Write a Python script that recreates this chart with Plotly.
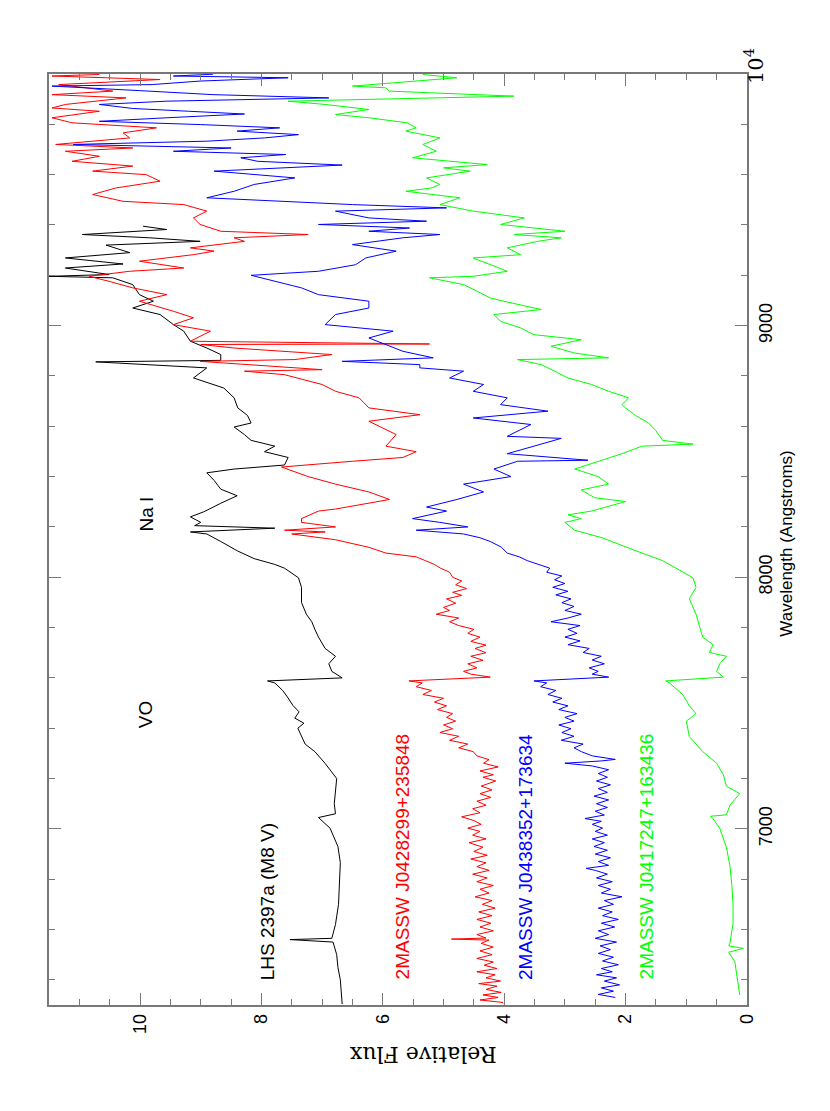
import plotly.graph_objects as go

# (wavelength in Angstrom, relative flux)
lhs_2397a = [
    (6304, 6.67), (6350, 6.68), (6400, 6.70), (6450, 6.74), (6500, 6.76), (6550, 6.82),
    (6560, 7.53), (6565, 6.84), (6620, 6.78), (6700, 6.73), (6780, 6.72), (6866, 6.70),
    (6930, 6.74), (7003, 6.87), (7045, 7.06), (7060, 6.78), (7100, 6.80), (7150, 6.78),
    (7200, 6.76), (7260, 6.95), (7307, 7.12), (7337, 7.28), (7367, 7.34), (7400, 7.40),
    (7420, 7.30), (7440, 7.45), (7465, 7.38), (7490, 7.48), (7520, 7.56), (7550, 7.65),
    (7580, 7.78), (7588, 7.90), (7600, 6.67), (7626, 6.84), (7656, 6.89), (7686, 6.78),
    (7717, 6.95), (7762, 7.06), (7793, 7.12), (7823, 7.17), (7853, 7.26), (7900, 7.34),
    (7960, 7.34), (7998, 7.39), (8036, 7.62), (8051, 7.78), (8074, 8.12), (8104, 8.39),
    (8142, 8.67), (8172, 8.90), (8180, 9.17), (8195, 7.78), (8205, 9.10), (8218, 9.00),
    (8240, 9.17), (8260, 8.95), (8294, 8.67), (8324, 8.40), (8350, 8.67), (8385, 8.78),
    (8415, 8.90), (8430, 8.45), (8446, 7.62), (8476, 7.56), (8499, 7.95), (8521, 7.78),
    (8544, 8.17), (8567, 8.28), (8597, 8.45), (8613, 8.17), (8643, 8.23), (8673, 8.39),
    (8713, 8.45), (8752, 8.62), (8792, 9.12), (8832, 8.90), (8856, 10.73), (8862, 8.67),
    (8885, 8.67), (8911, 8.90), (8938, 9.17), (8978, 9.28), (9004, 9.45), (9044, 9.67),
    (9070, 10.12), (9097, 9.78), (9123, 10.01), (9163, 10.12), (9190, 10.45), (9196, 11.50),
    (9203, 10.51), (9229, 11.23), (9245, 10.28), (9269, 11.23), (9290, 10.17), (9320, 10.56),
    (9335, 9.01), (9349, 9.84), (9362, 10.95), (9382, 9.56), (9395, 9.95),
]

j0428 = [
    (6310, 4.02), (6320, 4.40), (6330, 4.10), (6340, 4.35), (6350, 4.05), (6362, 4.30),
    (6375, 4.12), (6385, 4.42), (6395, 4.06), (6408, 4.30), (6420, 4.15), (6432, 4.45),
    (6445, 4.12), (6458, 4.33), (6471, 4.18), (6485, 4.45), (6500, 4.20), (6515, 4.40),
    (6530, 4.18), (6545, 4.38), (6558, 4.25), (6562, 4.87), (6566, 4.30), (6580, 4.45),
    (6595, 4.18), (6610, 4.40), (6625, 4.22), (6640, 4.45), (6655, 4.20), (6670, 4.42),
    (6685, 4.15), (6700, 4.36), (6715, 4.20), (6730, 4.48), (6745, 4.25), (6760, 4.40),
    (6775, 4.18), (6790, 4.45), (6805, 4.28), (6820, 4.52), (6835, 4.25), (6850, 4.45),
    (6865, 4.30), (6880, 4.55), (6895, 4.28), (6910, 4.50), (6927, 4.35), (6945, 4.58),
    (6960, 4.30), (6975, 4.52), (6990, 4.40), (7003, 4.60), (7018, 4.38), (7033, 4.50),
    (7048, 4.70), (7064, 4.40), (7080, 4.52), (7094, 4.30), (7110, 4.45), (7125, 4.22),
    (7140, 4.40), (7155, 4.20), (7170, 4.38), (7190, 4.14), (7205, 4.35), (7215, 4.18),
    (7230, 4.40), (7246, 4.10), (7261, 4.34), (7275, 4.25), (7290, 4.45), (7307, 4.51),
    (7322, 4.75), (7337, 4.60), (7352, 4.90), (7368, 4.75), (7383, 5.06), (7398, 4.85),
    (7413, 5.00), (7428, 4.80), (7443, 4.95), (7458, 4.85), (7474, 5.10), (7489, 4.95),
    (7504, 5.15), (7519, 5.00), (7534, 5.34), (7550, 5.20), (7565, 5.45), (7580, 5.35),
    (7588, 5.57), (7603, 4.23), (7615, 4.55), (7626, 4.67), (7640, 4.45), (7656, 4.60),
    (7670, 4.35), (7686, 4.55), (7700, 4.30), (7717, 4.48), (7730, 4.30), (7745, 4.55),
    (7762, 4.40), (7777, 4.60), (7793, 4.50), (7808, 4.75), (7823, 4.90), (7838, 4.75),
    (7853, 5.12), (7868, 4.90), (7880, 5.00), (7897, 4.80), (7914, 4.95), (7928, 4.70),
    (7940, 4.85), (7955, 4.62), (7970, 4.80), (7985, 4.70), (8000, 4.85), (8020, 4.90),
    (8036, 5.05), (8051, 5.15), (8066, 5.30), (8081, 5.45), (8096, 5.95), (8119, 6.23),
    (8149, 6.78), (8172, 7.50), (8180, 6.95), (8187, 7.62), (8200, 6.78), (8218, 7.34),
    (8233, 7.34), (8263, 7.06), (8271, 6.78), (8309, 5.89), (8339, 6.23), (8370, 6.78),
    (8400, 7.23), (8438, 7.67), (8461, 6.50), (8476, 5.67), (8499, 5.45), (8521, 5.95),
    (8567, 5.78), (8620, 6.23), (8646, 5.39), (8673, 6.23), (8713, 6.39), (8739, 6.78),
    (8766, 7.00), (8805, 7.62), (8819, 8.28), (8825, 7.00), (8858, 9.01), (8865, 7.45),
    (8885, 6.84), (8911, 8.45), (8925, 9.00), (8927, 5.23), (8938, 9.17), (8978, 8.84),
    (9004, 9.45), (9031, 9.12), (9057, 9.45), (9097, 10.01), (9123, 9.56), (9150, 10.12),
    (9176, 10.51), (9196, 10.84), (9216, 10.17), (9229, 9.28), (9256, 10.01), (9282, 9.12),
    (9296, 8.78), (9309, 9.17), (9335, 8.28), (9349, 8.45), (9362, 7.23), (9375, 8.67),
    (9402, 9.01), (9428, 9.12), (9455, 8.90), (9481, 9.28), (9494, 10.28), (9521, 10.78),
    (9547, 10.40), (9574, 9.67), (9600, 9.90), (9614, 10.78), (9634, 10.12), (9653, 11.12),
    (9673, 10.67), (9693, 11.23), (9706, 10.12), (9720, 11.39), (9746, 10.17), (9766, 10.28),
    (9786, 9.73), (9806, 11.12), (9826, 11.45), (9852, 10.67), (9865, 11.45), (9879, 11.23),
    (9905, 10.23), (9918, 11.45), (9932, 10.45), (9958, 11.34), (9978, 9.67), (9992, 11.45),
    (9998, 10.67),
]

j0438 = [
    (6330, 2.17), (6342, 2.45), (6355, 2.20), (6368, 2.40), (6380, 2.10), (6395, 2.35),
    (6408, 2.15), (6420, 2.48), (6432, 2.22), (6445, 2.40), (6460, 2.12), (6475, 2.38),
    (6490, 2.20), (6505, 2.45), (6520, 2.25), (6535, 2.42), (6550, 2.15), (6565, 2.50),
    (6580, 2.28), (6595, 2.45), (6610, 2.18), (6625, 2.40), (6640, 2.12), (6655, 2.38),
    (6670, 2.22), (6685, 2.45), (6700, 2.20), (6715, 2.35), (6730, 2.06), (6745, 2.40),
    (6760, 2.25), (6775, 2.45), (6790, 2.22), (6805, 2.48), (6820, 2.30), (6835, 2.50),
    (6843, 2.65), (6855, 2.28), (6870, 2.45), (6885, 2.25), (6900, 2.50), (6915, 2.30),
    (6930, 2.52), (6945, 2.35), (6960, 2.55), (6975, 2.30), (6990, 2.50), (7003, 2.38),
    (7018, 2.55), (7030, 2.40), (7041, 2.67), (7055, 2.35), (7070, 2.50), (7085, 2.30),
    (7100, 2.48), (7115, 2.28), (7130, 2.52), (7145, 2.30), (7160, 2.45), (7175, 2.25),
    (7190, 2.48), (7205, 2.30), (7220, 2.45), (7235, 2.28), (7250, 2.55), (7261, 3.00),
    (7270, 2.40), (7276, 2.17), (7290, 2.55), (7307, 2.73), (7322, 2.85), (7337, 2.70),
    (7352, 3.06), (7368, 2.85), (7383, 3.05), (7398, 2.90), (7413, 3.10), (7428, 2.85),
    (7443, 3.00), (7458, 2.80), (7474, 3.10), (7489, 2.95), (7504, 3.20), (7519, 3.05),
    (7534, 3.28), (7550, 3.15), (7565, 3.40), (7580, 3.30), (7588, 3.51), (7603, 2.28),
    (7615, 2.55), (7626, 2.45), (7640, 2.60), (7656, 2.35), (7671, 2.55), (7686, 2.40),
    (7701, 2.70), (7717, 2.60), (7732, 2.95), (7747, 2.75), (7762, 3.00), (7777, 2.80),
    (7793, 2.95), (7808, 2.75), (7823, 3.23), (7838, 2.95), (7853, 2.73), (7868, 3.00),
    (7884, 2.85), (7899, 3.05), (7914, 2.90), (7930, 3.15), (7944, 2.95), (7960, 3.20),
    (7975, 3.00), (7990, 3.17), (8005, 3.05), (8020, 3.30), (8036, 3.25), (8051, 3.45),
    (8066, 3.62), (8081, 3.75), (8096, 3.95), (8120, 4.05), (8142, 4.23), (8157, 4.40),
    (8172, 4.67), (8187, 5.45), (8200, 4.60), (8218, 5.06), (8233, 5.51), (8263, 4.95),
    (8279, 5.28), (8309, 4.78), (8339, 4.34), (8370, 4.67), (8400, 3.89), (8430, 4.17),
    (8461, 3.78), (8465, 2.62), (8491, 3.95), (8521, 3.51), (8552, 3.06), (8560, 3.95),
    (8607, 3.56), (8633, 4.51), (8660, 3.28), (8686, 4.06), (8713, 3.95), (8739, 4.51),
    (8766, 4.34), (8792, 4.90), (8819, 4.67), (8832, 5.39), (8845, 5.39), (8858, 6.67),
    (8872, 5.17), (8898, 5.67), (8925, 5.95), (8951, 6.23), (8978, 5.83), (9004, 6.95),
    (9044, 6.78), (9070, 6.23), (9097, 6.23), (9123, 7.06), (9150, 7.34), (9200, 8.17),
    (9216, 7.06), (9242, 6.45), (9269, 6.28), (9296, 5.78), (9322, 6.50), (9349, 5.67),
    (9362, 5.06), (9375, 6.23), (9388, 5.56), (9402, 7.06), (9415, 5.28), (9428, 6.23),
    (9455, 6.78), (9468, 4.95), (9481, 6.50), (9494, 7.56), (9508, 8.90), (9534, 8.45),
    (9561, 8.12), (9587, 7.45), (9614, 8.78), (9638, 6.67), (9653, 8.06), (9667, 8.34),
    (9680, 7.60), (9693, 9.45), (9706, 8.50), (9720, 11.10), (9733, 8.90), (9746, 7.95),
    (9759, 7.39), (9773, 8.40), (9786, 7.70), (9799, 9.00), (9812, 10.67), (9826, 9.56),
    (9841, 8.28), (9852, 9.20), (9863, 10.12), (9879, 10.67), (9892, 9.56), (9905, 6.89),
    (9918, 8.80), (9934, 10.01), (9945, 10.78), (9952, 11.45), (9958, 9.80), (9972, 9.01),
    (9985, 7.56), (9992, 9.45), (9999, 8.80),
]

j0417 = [
    (6340, 0.12), (6395, 0.15), (6471, 0.20), (6510, 0.30), (6525, 0.06), (6535, 0.30),
    (6547, 0.28), (6623, 0.23), (6699, 0.23), (6775, 0.25), (6851, 0.28), (6927, 0.34),
    (7003, 0.45), (7040, 0.56), (7050, 0.60), (7056, 0.34), (7094, 0.28), (7140, 0.12),
    (7170, 0.34), (7215, 0.39), (7261, 0.50), (7307, 0.73), (7337, 0.84), (7367, 0.95),
    (7428, 1.00), (7458, 0.84), (7489, 0.95), (7534, 1.06), (7580, 1.28), (7588, 1.34),
    (7603, 0.39), (7626, 0.50), (7656, 0.45), (7686, 0.34), (7701, 0.62), (7732, 0.56),
    (7762, 0.73), (7808, 0.78), (7853, 0.84), (7914, 0.95), (7960, 0.84), (7998, 0.89),
    (8036, 1.17), (8066, 1.39), (8096, 1.73), (8127, 2.06), (8157, 2.39), (8187, 2.84),
    (8218, 3.00), (8233, 2.73), (8248, 2.95), (8263, 2.56), (8279, 2.34), (8301, 2.00),
    (8316, 2.51), (8347, 2.73), (8370, 2.28), (8400, 2.45), (8430, 2.84), (8461, 2.45),
    (8491, 2.06), (8521, 1.73), (8529, 0.89), (8544, 1.39), (8582, 1.50), (8613, 1.62),
    (8643, 1.84), (8673, 2.00), (8686, 2.06), (8713, 1.95), (8739, 2.28), (8766, 2.56),
    (8792, 2.95), (8819, 3.17), (8845, 3.39), (8865, 3.78), (8872, 2.28), (8891, 2.84),
    (8918, 3.23), (8944, 2.73), (8964, 3.51), (8991, 3.73), (9017, 4.06), (9044, 4.17),
    (9064, 3.39), (9097, 4.01), (9110, 4.23), (9137, 4.45), (9163, 4.67), (9190, 5.23),
    (9196, 4.51), (9216, 3.95), (9242, 4.23), (9269, 4.51), (9282, 3.73), (9309, 3.95),
    (9335, 3.45), (9349, 3.06), (9362, 3.84), (9375, 3.00), (9402, 4.06), (9428, 3.67),
    (9455, 4.51), (9481, 5.06), (9508, 4.73), (9534, 5.62), (9547, 5.20), (9561, 5.06),
    (9587, 5.28), (9614, 4.56), (9627, 5.00), (9640, 4.28), (9667, 5.51), (9693, 5.12),
    (9720, 5.34), (9746, 5.06), (9773, 5.62), (9786, 5.45), (9806, 5.60), (9826, 6.23),
    (9839, 6.78), (9859, 6.23), (9879, 6.95), (9892, 7.56), (9912, 3.84), (9932, 5.90),
    (9945, 5.95), (9952, 6.50), (9985, 4.78), (9998, 5.34),
]

spectra = [
    (lhs_2397a, 'black'),
    (j0428, 'red'),
    (j0438, 'blue'),
    (j0417, 'rgb(0,255,0)'),
]

# labels: (text, flux, wavelength, colour)
labels = [
    ('LHS 2397a (M8 V)', 7.9, 6710, 'black'),
    ('VO', 9.92, 7455, 'black'),
    ('Na I', 9.9, 8250, 'black'),
    ('2MASSW J0428299+235848', 5.67, 6890, 'red'),
    ('2MASSW J0438352+173634', 3.65, 6890, 'blue'),
    ('2MASSW J0417247+163436', 1.65, 6890, 'rgb(0,255,0)'),
]

flux_ticks = [0, 2, 4, 6, 8, 10]
wave_ticks = [7000, 8000, 9000]

sans = 'Liberation Sans, Arial, sans-serif'
serif = 'DejaVu Serif, serif'
frame = 'rgb(120,120,120)'

fig = go.Figure()

for points, colour in spectra:
    wl, fl = zip(*points)
    fig.add_trace(go.Scatter(
        x=fl, y=wl, mode='lines',
        line=dict(color=colour, width=1),
        showlegend=False, hoverinfo='skip'
    ))

for text, fl, wl, colour in labels:
    fig.add_annotation(
        x=fl, y=wl, xref='x', yref='y', text=text, showarrow=False,
        textangle=-90, font=dict(family=sans, size=19, color=colour)
    )

# axis titles and the 10^4 label, rotated like the page
fig.add_annotation(x=0.535, y=-0.068, xref='paper', yref='paper',
                   text='Relative Flux', showarrow=False, textangle=180,
                   font=dict(family=serif, size=22, color='black'))
fig.add_annotation(x=1.073, y=0.496, xref='paper', yref='paper',
                   text='Wavelength (Angstroms)', showarrow=False, textangle=-90,
                   font=dict(family=sans, size=17, color='black'))
fig.add_annotation(x=1.033, y=1.03, xref='paper', yref='paper',
                   text='10<sup>4</sup>', showarrow=False, textangle=-90,
                   font=dict(family=serif, size=21, color='black'))

fig.update_layout(
    width=830, height=1111,
    margin=dict(l=41, r=91, t=66, b=114),
    plot_bgcolor='white', paper_bgcolor='white',
    showlegend=False,
    xaxis=dict(
        range=[11.5, 0], tickvals=flux_ticks, ticktext=[str(v) for v in flux_ticks],
        tickangle=-90, tickfont=dict(family=sans, size=18, color='black'),
        ticks='inside', ticklen=12, tickwidth=1, tickcolor=frame,
        ticklabelstandoff=0,
        minor=dict(dtick=0.5, tick0=0, ticks='inside', ticklen=6, tickcolor=frame, showgrid=False),
        showline=True, linecolor=frame, linewidth=1.5, mirror='ticks',
        showgrid=False, zeroline=False,
    ),
    yaxis=dict(
        range=[6300, 10000], side='right', tickvals=wave_ticks,
        ticktext=[str(v) for v in wave_ticks],
        tickangle=-90, tickfont=dict(family=sans, size=18, color='black'),
        ticks='inside', ticklen=12, tickwidth=1, tickcolor=frame,
        ticklabelstandoff=2,
        minor=dict(dtick=200, tick0=6000, ticks='inside', ticklen=6, tickcolor=frame, showgrid=False),
        showline=True, linecolor=frame, linewidth=1.5, mirror='ticks',
        showgrid=False, zeroline=False,
    ),
)

fig.write_html('out.html')
